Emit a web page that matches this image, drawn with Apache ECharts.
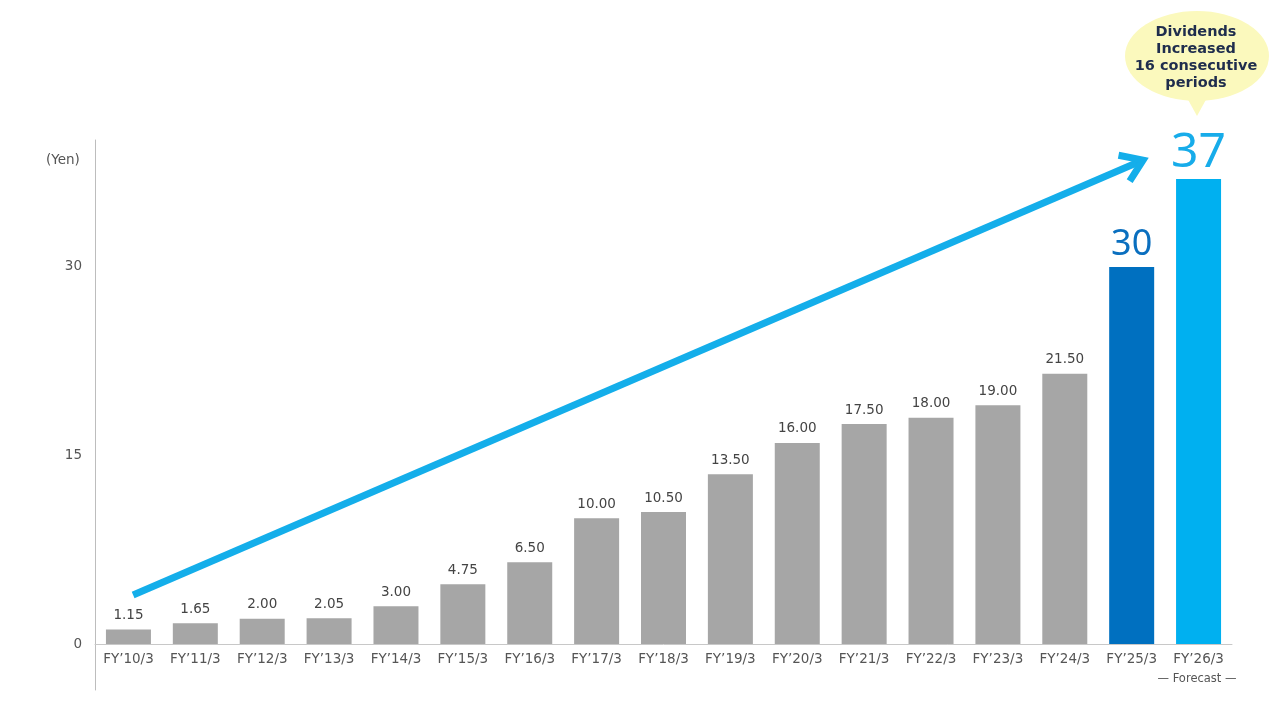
<!DOCTYPE html>
<html>
<head>
<meta charset="utf-8">
<script src="https://cdn.jsdelivr.net/npm/echarts@6/dist/echarts.min.js"></script>
<style>
    html, body { margin: 0; padding: 0; background: #fff; }
    #main { width: 1286px; height: 708px; }
</style>
</head>
<body>
<div id="main"></div>
<script>
var years = ['FY’10/3', 'FY’11/3', 'FY’12/3', 'FY’13/3', 'FY’14/3', 'FY’15/3', 'FY’16/3', 'FY’17/3',
    'FY’18/3', 'FY’19/3', 'FY’20/3', 'FY’21/3', 'FY’22/3', 'FY’23/3', 'FY’24/3', 'FY’25/3', 'FY’26/3'];
var dividends = [1.15, 1.65, 2.00, 2.05, 3.00, 4.75, 6.50, 10.00, 10.50, 13.50, 16.00, 17.50, 18.00, 19.00, 21.50, 30, 37];
var yTicks = [0, 15, 30];
// trend arrow, [category position, yen]
var arrowStart = [0.07, 3.9];
var arrowEnd = [15.17, 38.5];

var FONT = '"DejaVu Sans", Verdana, sans-serif';
var chart = echarts.init(document.getElementById('main'));

var barData = dividends.map(function (v, i) {
    if (i === years.length - 2) {
        return {
            value: v,
            itemStyle: {color: '#0070c0'},
            label: {fontSize: 36, fontFamily: '"Noto Sans", sans-serif', color: '#0a6fbf', distance: 4,
                formatter: function (p) { return String(p.value); }}
        };
    }
    if (i === years.length - 1) {
        return {
            value: v,
            itemStyle: {color: '#00b0f0'},
            label: {fontSize: 48, fontFamily: '"Noto Sans", sans-serif', color: '#17acea', distance: 2,
                formatter: function (p) { return String(p.value); }}
        };
    }
    return v;
});

var option = {
    animation: false,
    title: {
        text: '(Yen)',
        left: 41,
        top: 148,
        textStyle: {fontFamily: FONT, fontSize: 13.5, fontWeight: 'normal', color: '#555'}
    },
    grid: [
        {left: 95, right: 54, top: 140, bottom: 64},
        {left: 95, right: 54, top: 140, bottom: 18}
    ],
    xAxis: [{
        type: 'category',
        gridIndex: 0,
        data: years,
        axisLine: {lineStyle: {color: '#c8c8c8', width: 1}},
        axisTick: {show: false},
        axisLabel: {color: '#555', fontSize: 13.5, fontFamily: FONT, margin: 8, interval: 0}
    }, {
        type: 'value',
        gridIndex: 0,
        min: -0.5,
        max: years.length - 0.5,
        show: false
    }, {
        type: 'value',
        gridIndex: 1,
        show: false
    }],
    yAxis: [{
        type: 'value',
        gridIndex: 0,
        min: 0,
        max: 40.1,
        splitLine: {show: false},
        axisLine: {show: false},
        axisTick: {show: false},
        axisLabel: {
            customValues: yTicks,
            color: '#555',
            fontSize: 13.5,
            fontFamily: FONT,
            margin: 13
        }
    }, {
        // vertical rule running past zero, as in the original slide
        type: 'value',
        gridIndex: 1,
        splitLine: {show: false},
        axisLine: {show: true, onZero: false, lineStyle: {color: '#bdbdbd', width: 1}},
        axisTick: {show: false},
        axisLabel: {show: false}
    }],
    series: [{
        type: 'bar',
        data: barData,
        barWidth: 45,
        itemStyle: {color: '#a6a6a6'},
        label: {
            show: true,
            position: 'top',
            distance: 7,
            color: '#444',
            fontSize: 13.5,
            fontFamily: FONT,
            formatter: function (p) { return p.value.toFixed(2); }
        }
    }, {
        type: 'custom',
        xAxisIndex: 1,
        yAxisIndex: 0,
        data: [arrowStart.concat(arrowEnd)],
        z: 5,
        renderItem: function (params, api) {
            var a = api.coord([api.value(0), api.value(1)]);
            var b = api.coord([api.value(2), api.value(3)]);
            var ang = Math.atan2(b[1] - a[1], b[0] - a[0]);
            var len = 25, spread = 0.6;
            var p1 = [b[0] - len * Math.cos(ang - spread), b[1] - len * Math.sin(ang - spread)];
            var p2 = [b[0] - len * Math.cos(ang + spread), b[1] - len * Math.sin(ang + spread)];
            var style = {stroke: '#14aeea', lineWidth: 7, fill: null, lineCap: 'butt', lineJoin: 'miter'};
            return {
                type: 'group',
                children: [
                    {type: 'line', shape: {x1: a[0], y1: a[1], x2: b[0] - 3 * Math.cos(ang), y2: b[1] - 3 * Math.sin(ang)}, style: style},
                    {type: 'polyline', shape: {points: [p1, b, p2]}, style: style}
                ]
            };
        }
    }],
    graphic: [{
        type: 'circle',
        shape: {cx: 0, cy: 0, r: 45},
        x: 1197,
        y: 56,
        scaleX: 1.6,
        style: {fill: '#fbf9bd'}
    }, {
        type: 'polygon',
        shape: {points: [[1186, 96], [1208, 96], [1197, 116]]},
        style: {fill: '#fbf9bd'}
    }, {
        type: 'text',
        x: 1196,
        y: 58,
        style: {
            text: 'Dividends\nIncreased\n16 consecutive\nperiods',
            textAlign: 'center',
            textVerticalAlign: 'middle',
            fontFamily: FONT,
            fontSize: 14.5,
            fontWeight: 'bold',
            lineHeight: 17,
            fill: '#1f2d4d'
        }
    }, {
        type: 'text',
        x: 1197,
        y: 679,
        style: {
            text: '— Forecast —',
            textAlign: 'center',
            textVerticalAlign: 'middle',
            fontFamily: FONT,
            fontSize: 11.5,
            fill: '#555'
        }
    }]
};
chart.setOption(option);
</script>
</body>
</html>
